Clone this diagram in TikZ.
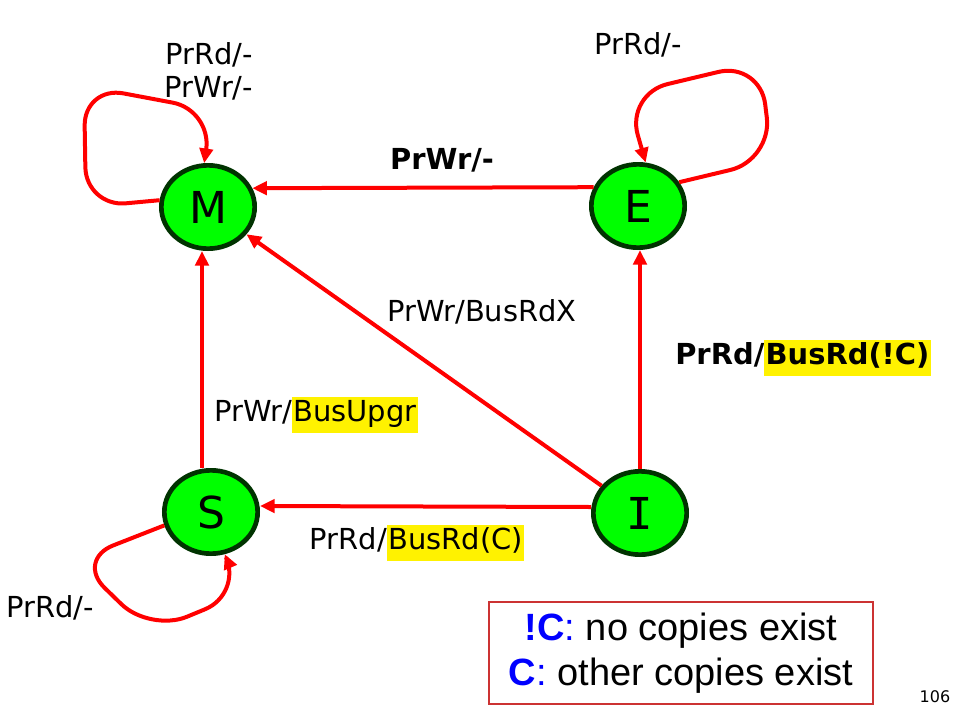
\documentclass[tikz,border=0pt]{standalone}
\usepackage{fontspec}
\setmainfont{DejaVu Sans}
\newfontfamily\arialf{Liberation Sans}
\newfontfamily\monof{DejaVu Sans Mono}
\usetikzlibrary{arrows.meta,shapes.geometric,calc}
\definecolor{stgreen}{HTML}{00FF00}
\definecolor{stborder}{HTML}{003300}
\definecolor{boxred}{HTML}{CC3333}
\definecolor{cblue}{HTML}{0000FF}
\newcommand\hlt[1]{{\setlength{\fboxsep}{1pt}\colorbox{yellow}{\strut #1}}}
\begin{document}
\begin{tikzpicture}[x=0.75pt,y=-0.75pt,
  state/.style={ellipse,draw=stborder,fill=stgreen,line width=3.5pt,
    minimum width=70pt,minimum height=62.5pt,inner sep=0pt,
    font=\fontsize{33}{33}\selectfont},
  tr/.style={draw=red,line width=3pt,-{Triangle[length=11pt,width=10pt]}},
  lbl/.style={inner sep=0pt,font=\fontsize{21.7}{24.75}\selectfont},
  blbl/.style={inner sep=0pt,font=\fontsize{21.7}{24.75}\selectfont\bfseries}]
\useasboundingbox (0,0) rectangle (968,718);
\fill[white] (0,0) rectangle (968,718);

\node[state] (M) at (208,207) {M};
\node[state] (E) at (638,206) {E};
\node[state] (S) at (211,512) {S};
\node[state] (I) at (640,513) {\monof I};

% connectors
\draw[tr] (E.157) -- (M.23);
\draw[tr] (I) -- (M);
\draw[tr] (I.north) -- (I.north |- E.south);
\draw[tr] ([xshift=-6.75pt]S.north) -- ([xshift=-4.5pt]M.south);
\draw[tr] ([yshift=4.5pt]I.west) -- ([yshift=4.5pt]S.east);

% self loops
\draw[tr,rounded corners=30pt] (M.172) -- (86,207) -- (84,86) -- (212,110) -- (M.95);
\draw[tr,rounded corners=32pt] (E.30) -- (772,160) -- (760,62) -- (626,94) -- (E.80);
\draw[tr,rounded corners=30pt] (S.196) -- (76,560) -- (150,632) -- (242,594) -- (S.-72);

% labels
\node[lbl,align=center] (lm) at (209,71) {PrRd/-\\PrWr/-};
\node[lbl] (le) at (638,45) {PrRd/-};
\node[lbl] (ls) at (50,608) {PrRd/-};
\node[blbl] (lem) at (442,160) {PrWr/-};
\node[lbl] (lim) at (482,312) {PrWr/BusRdX};
\node[blbl] (lie) at (803,358) {PrRd/\hlt{BusRd(!C)}};
\node[lbl] (lsm) at (316,415) {PrWr/\hlt{BusUpgr}};
\node[lbl] (lis) at (417,543) {PrRd/\hlt{BusRd(C)}};

% legend
\node[draw=boxred,line width=1.5pt,minimum width=288pt,minimum height=76.5pt,
  align=center,inner sep=0pt,font=\arialf\fontsize{28.5}{34}\selectfont] (legend) at (681,653)
  {\textcolor{cblue}{\textbf{!C}:} no copies exist\\\textcolor{cblue}{\textbf{C}:} other copies exist};

\node[inner sep=0pt,font=\fontsize{12}{12}\selectfont] (pg) at (935,697) {106};
\end{tikzpicture}
\end{document}
